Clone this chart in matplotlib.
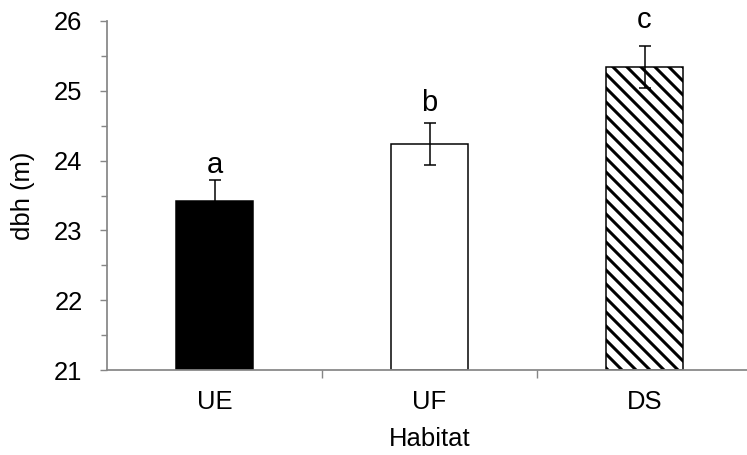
import matplotlib
matplotlib.use("Agg")
import matplotlib.pyplot as plt
import numpy as np

categories = ["UE", "UF", "DS"]
values = [23.42, 24.24, 25.34]
errors = [0.30, 0.30, 0.30]
letters = ["a", "b", "c"]
letter_y = [23.82, 24.71, 25.90]
yticks = [21, 22, 23, 24, 25, 26]

DPI = 84
W, H = 747, 455
plt.rcParams['font.family'] = ['Liberation Sans', 'DejaVu Sans']
plt.rcParams['hatch.linewidth'] = 2.6
plt.rcParams['hatch.color'] = 'black'

fig = plt.figure(figsize=(W / DPI, H / DPI), dpi=DPI)
left, right, top, bottom = 107, 752, 21, 370
ax = fig.add_axes([left / W, 1 - bottom / H, (right - left) / W, (bottom - top) / H])

x = np.arange(len(categories))
faces = ['black', 'white', 'white']
hatches = [None, None, '\\\\']
gray = '#868686'
for xi, v, e, fc, h in zip(x, values, errors, faces, hatches):
    ax.bar(xi, v - 21, bottom=21, width=0.36, color=fc, edgecolor='black',
           linewidth=1.3, hatch=h, zorder=2)
ax.errorbar(x, values, yerr=errors, fmt='none', ecolor='black', elinewidth=1.3,
            capsize=5, capthick=1.3, zorder=3)
for xi, t, ly in zip(x, letters, letter_y):
    ax.text(xi, ly, t, ha='center', va='baseline', fontsize=25, color='black')

ax.set_xlim(-0.5, len(categories) - 0.5)
ax.set_ylim(21, 26)
ax.set_yticks(yticks)
ax.set_yticks([y + 0.5 for y in yticks[:-1]], minor=True)
ax.tick_params(axis='y', which='major', direction='out', length=6, width=1.2,
               color=gray, labelsize=22, pad=15)
ax.tick_params(axis='y', which='minor', direction='out', length=5, width=1.2, color=gray)

ax.set_xticks([0.5, 1.5])
ax.set_xticklabels([])
ax.set_xticks(x, minor=True)
ax.set_xticklabels(categories, minor=True)
ax.tick_params(axis='x', which='major', direction='out', length=7, width=1.2, color=gray)
ax.tick_params(axis='x', which='minor', length=0, labelsize=22, pad=17)

for s in ['top', 'right']:
    ax.spines[s].set_visible(False)
for s in ['left', 'bottom']:
    ax.spines[s].set_color(gray)
    ax.spines[s].set_linewidth(1.5)

ax.set_xlabel("Habitat", fontsize=22, labelpad=11)
ax.set_ylabel("dbh (m)", fontsize=22, labelpad=16)

fig.savefig("out.png", dpi=DPI)
